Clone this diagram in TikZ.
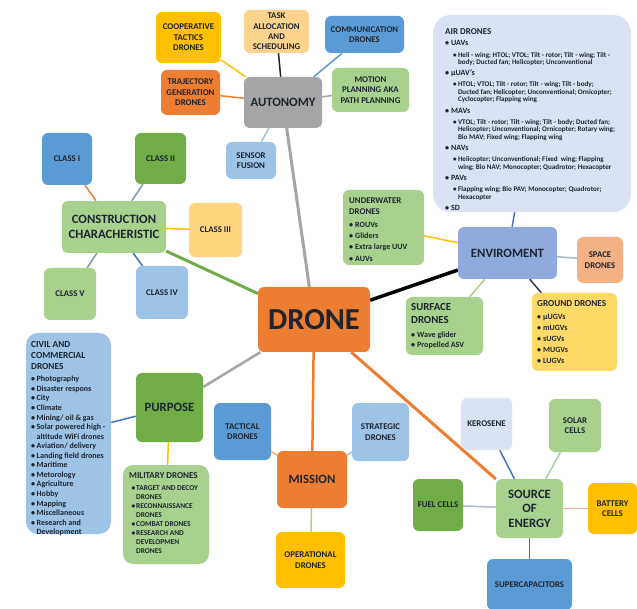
\documentclass[tikz,border=0pt]{standalone}
\usepackage{fontspec}
\setmainfont{Carlito}
\usetikzlibrary{backgrounds}
\definecolor{txt}{HTML}{1E2430}
\definecolor{cOrange}{HTML}{ED7D31}
\definecolor{cYellow}{HTML}{FFC000}
\definecolor{cBlue}{HTML}{5B9BD5}
\definecolor{cGreen}{HTML}{70AD47}
\definecolor{cLGreen}{HTML}{A9D18E}
\definecolor{cLBlue}{HTML}{9DC3E6}
\definecolor{cGray}{HTML}{A5A5A5}
\definecolor{cPeach}{HTML}{FCD38D}
\definecolor{cLOrange}{HTML}{FFD580}
\definecolor{cGround}{HTML}{FFD966}
\definecolor{cEnv}{HTML}{8FAADC}
\definecolor{cSalmon}{HTML}{F4B183}
\definecolor{cPale}{HTML}{DAE3F3}
\definecolor{cDBlue}{HTML}{4472C4}
\definecolor{cSlate}{HTML}{8497B0}
\definecolor{cSlateL}{HTML}{ADB9CA}
\definecolor{cDark}{HTML}{333F50}
\newcommand\fs[2]{\fontsize{#1}{#2}\selectfont}
\newcommand\bu[1][5pt]{\makebox[#1][l]{\textbullet}}
\newcommand\bx[8]{\node[box=#6,#7,minimum width=#4pt,minimum height=#5pt] (#1) at (#2,#3) {#8};}
\begin{document}
\begin{tikzpicture}[x=1pt,y=-1pt,
  box/.style={rounded corners=6pt, fill=#1, draw=none, align=center, text=txt, inner sep=1pt},
  f9/.style={font=\bfseries\fs{8.8}{10.4}},
  f12/.style={font=\bfseries\fs{12.7}{14.5}},
  fDrone/.style={font=\bfseries\fs{30.5}{34}},
  lk/.style={draw=#1, line width=1.5pt},
  mainlk/.style={draw=#1, line width=3pt},
  list/.style={anchor=north west, inner sep=0pt, align=left, text=txt}]
\useasboundingbox (0,0) rectangle (637,609);

% ---- centre
\bx{drone}{314}{319.5}{112}{65}{cOrange}{fDrone}{DRONE}

% ---- autonomy
\bx{auto}{283}{102.5}{78}{51}{cGray}{f12}{AUTONOMY}
\bx{coop}{188.5}{37.5}{65}{51}{cYellow}{f9}{COOPERATIVE\\TACTICS\\DRONES}
\bx{task}{276.5}{31.5}{65}{43}{cPeach}{f9}{TASK\\ALLOCATION\\AND\\SCHEDULING}
\bx{comm}{364.5}{34.5}{79}{37}{cBlue}{f9}{COMMUNICATION\\DRONES}
\bx{traj}{190.5}{92.5}{59}{45}{cOrange}{f9}{TRAJECTORY\\GENERATION\\DRONES}
\bx{motion}{370.5}{90}{77}{44}{cLGreen}{f9}{MOTION\\PLANNING AKA\\PATH PLANNING}
\bx{sensor}{251}{160.5}{50}{37}{cLBlue}{f9}{SENSOR\\FUSION}

% ---- construction
\bx{c1}{67}{159}{50}{52}{cBlue}{f9}{CLASS I}
\bx{c2}{160.5}{158.5}{51}{51}{cGreen}{f9}{CLASS II}
\bx{constr}{114}{227}{104}{52}{cLGreen}{f12}{CONSTRUCTION\\CHARACHERISTIC}
\bx{c3}{215.5}{230}{53}{54}{cLOrange}{f9}{CLASS III}
\bx{c5}{70}{294}{52}{52}{cLGreen}{f9}{CLASS V}
\bx{c4}{162}{292.5}{52}{53}{cLBlue}{f9}{CLASS IV}

% ---- environment
\bx{air}{532}{113.5}{198}{197}{cPale}{f9,rounded corners=18pt}{}
\bx{under}{383.5}{227.5}{81}{75}{cLGreen}{f9}{}
\bx{env}{507.5}{253}{99}{52}{cEnv}{f12}{ENVIROMENT}
\bx{space}{600}{260}{46}{46}{cSalmon}{f9}{SPACE\\DRONES}
\bx{surface}{444.5}{326}{77}{58}{cLGreen}{f9}{}
\bx{ground}{574.5}{332}{85}{78}{cGround}{f9}{}

\node[list, font=\bfseries\fs{7.1}{7.5}] (airtxt) at (445,28.6) {%
{\fs{9}{7.5}AIR DRONES}\\[3.7pt]
{\fs{8}{7.5}\bu[6pt]UAVs}\\[3.7pt]
\hspace*{8pt}\bu[4.8pt]Heli - wing; HTOL; VTOL; Tilt - rotor; Tilt - wing; Tilt -\\
\hspace*{12.8pt}body; Ducted fan; Helicopter; Unconventional\\[3.7pt]
{\fs{8}{7.5}\bu[6pt]μUAV's}\\[3.7pt]
\hspace*{8pt}\bu[4.8pt]HTOL; VTOL; Tilt - rotor; Tilt - wing; Tilt - body;\\
\hspace*{12.8pt}Ducted fan; Helicopter; Unconventional; Ornicopter;\\
\hspace*{12.8pt}Cyclocopter; Flapping wing\\[3.7pt]
{\fs{8}{7.5}\bu[6pt]MAVs}\\[3.7pt]
\hspace*{8pt}\bu[4.8pt]VTOL; Tilt - rotor; Tilt - wing; Tilt - body; Ducted fan;\\
\hspace*{12.8pt}Helicopter; Unconventional; Ornicopter; Rotary wing;\\
\hspace*{12.8pt}Bio MAV; Fixed wing; Flapping wing\\[3.7pt]
{\fs{8}{7.5}\bu[6pt]NAVs}\\[3.7pt]
\hspace*{8pt}\bu[4.8pt]Helicopter; Unconventional; Fixed\ \ wing; Flapping\\
\hspace*{12.8pt}wing; Bio NAV; Monocopter; Quadrotor; Hexacopter\\[3.7pt]
{\fs{8}{7.5}\bu[6pt]PAVs}\\[3.7pt]
\hspace*{8pt}\bu[4.8pt]Flapping wing; Bio PAV; Monocopter; Quadrotor;\\
\hspace*{12.8pt}Hexacopter\\[3.7pt]
{\fs{8}{7.5}\bu[6pt]SD}};

\node[list, font=\bfseries\fs{8}{11.3}] (undertxt) at (349,197.3) {%
{\fs{8.8}{11.3}UNDERWATER}\\[-0.3pt]
{\fs{8.8}{11.3}DRONES}\\[1.7pt]
\bu[6pt]ROUVs\\
\bu[6pt]Gliders\\
\bu[6pt]Extra large UUV\\
\bu[6pt]AUVs};

\node[list, font=\bfseries\fs{8}{9.3}] (surftxt) at (411,303.3) {%
{\fs{10.8}{9.3}SURFACE}\\[3.3pt]
{\fs{10.8}{9.3}DRONES}\\[5.5pt]
\bu[6pt]Wave glider\\
\bu[6pt]Propelled ASV};

\node[list, font=\bfseries\fs{8}{11}] (groundtxt) at (537,300) {%
{\fs{9.2}{11}GROUND DRONES}\\[2.6pt]
\bu[6pt]μUGVs\\
\bu[6pt]mUGVs\\
\bu[6pt]sUGVs\\
\bu[6pt]MUGVs\\
\bu[6pt]LUGVs};

% ---- purpose
\bx{civil}{68.5}{433.5}{85}{201}{cLBlue}{f9,rounded corners=12pt}{}
\bx{purpose}{169.5}{407.5}{67}{69}{cGreen}{f12}{PURPOSE}
\bx{mil}{166}{514.5}{86}{99}{cLGreen}{f9,rounded corners=10pt}{}

\node[list, font=\bfseries\fs{8}{9.56}] (civiltxt) at (31,341) {%
{\fs{9.3}{9.56}CIVIL AND}\\[1.4pt]
{\fs{9.3}{9.56}COMMERCIAL}\\[1.4pt]
{\fs{9.3}{9.56}DRONES}\\[3pt]
\bu[5.5pt]Photography\\
\bu[5.5pt]Disaster respons\\
\bu[5.5pt]City\\
\bu[5.5pt]Climate\\
\bu[5.5pt]Mining/ oil \& gas\\
\bu[5.5pt]Solar powered high -\\
\hspace*{5.5pt}altitude WiFi drones\\
\bu[5.5pt]Aviation/ delivery\\
\bu[5.5pt]Landing field drones\\
\bu[5.5pt]Maritime\\
\bu[5.5pt]Metorology\\
\bu[5.5pt]Agriculture\\
\bu[5.5pt]Hobby\\
\bu[5.5pt]Mapping\\
\bu[5.5pt]Miscellaneous\\
\bu[5.5pt]Research and\\
\hspace*{5.5pt}Development};

\node[list, font=\bfseries\fs{7.4}{8.96}] (miltxt) at (129,472.8) {%
{\fs{9}{8.96}MILITARY DRONES}\\[3.1pt]
\hspace*{2.5pt}\bu[4.5pt]TARGET AND DECOY\\
\hspace*{7pt}DRONES\\
\hspace*{2.5pt}\bu[4.5pt]RECONNAISSANCE\\
\hspace*{7pt}DRONES\\
\hspace*{2.5pt}\bu[4.5pt]COMBAT DRONES\\
\hspace*{2.5pt}\bu[4.5pt]RESEARCH AND\\
\hspace*{7pt}DEVELOPMEN\\
\hspace*{7pt}DRONES};

% ---- mission
\bx{tact}{242.5}{431.5}{57}{57}{cBlue}{f9}{TACTICAL\\DRONES}
\bx{strat}{380.5}{432}{57}{58}{cLBlue}{f9}{STRATEGIC\\DRONES}
\bx{mission}{312}{479.5}{70}{57}{cOrange}{f12}{MISSION}
\bx{oper}{310.5}{560}{69}{56}{cYellow}{f9}{OPERATIONAL\\DRONES}

% ---- energy
\bx{kero}{486.5}{424}{51}{52}{cPale}{f9}{KEROSENE}
\bx{solar}{575}{425.5}{52}{53}{cLGreen}{f9}{SOLAR\\CELLS}
\bx{fuel}{438}{505}{50}{52}{cGreen}{f9}{FUEL CELLS}
\bx{source}{529.5}{508.5}{67}{59}{cLGreen}{f12}{SOURCE\\OF\\ENERGY}
\bx{batt}{612.5}{508.5}{49}{51}{cYellow}{f9}{BATTERY\\CELLS}
\bx{super}{529.5}{584.5}{85}{51}{cBlue}{f9}{SUPERCAPACITORS}

% ---- connectors
\begin{scope}[on background layer]
\fill[white] (0,0) rectangle (637,609);
\draw[mainlk=cGray] (drone) -- (auto);
\draw[mainlk=cGreen] (drone) -- (constr);
\draw[mainlk=black, line width=3.5pt] (drone) -- (env);
\draw[mainlk=cGray, line width=2.5pt] (drone) -- (purpose);
\draw[mainlk=cOrange, line width=2.5pt] (drone) -- (mission);
\draw[mainlk=cOrange] (drone) -- (source);
\draw[lk=cYellow] (auto) -- (coop);
\draw[lk=txt] (auto) -- (task);
\draw[lk=cBlue] (auto) -- (comm);
\draw[lk=cOrange] (auto) -- (traj);
\draw[lk=cGray] (auto) -- (motion);
\draw[lk=cLBlue] (auto) -- (sensor);
\draw[lk=cOrange] (constr) -- (c1);
\draw[lk=cSlate] (constr) -- (c2);
\draw[lk=cYellow] (constr) -- (c3);
\draw[lk=cSlate] (constr) -- (c5);
\draw[lk=cDBlue] (constr) -- (c4);
\draw[lk=cDBlue] (env) -- (air);
\draw[lk=cYellow] (env) -- (under);
\draw[lk=cSlateL] (env) -- (space);
\draw[lk=cLGreen] (env) -- (surface);
\draw[lk=cDark] (env) -- (ground);
\draw[lk=cDBlue] (purpose) -- (civil);
\draw[lk=cYellow] (purpose) -- (mil);
\draw[lk=cSalmon] (mission) -- (tact);
\draw[lk=cLBlue] (mission) -- (strat);
\draw[lk=cLGreen] (mission) -- (oper);
\draw[lk=cDBlue] (source) -- (kero);
\draw[lk=cLGreen] (source) -- (solar);
\draw[lk=cSlateL] (source) -- (fuel);
\draw[lk=cSalmon] (source) -- (batt);
\draw[lk=cDBlue] (source) -- (super);
\end{scope}
\end{tikzpicture}
\end{document}
